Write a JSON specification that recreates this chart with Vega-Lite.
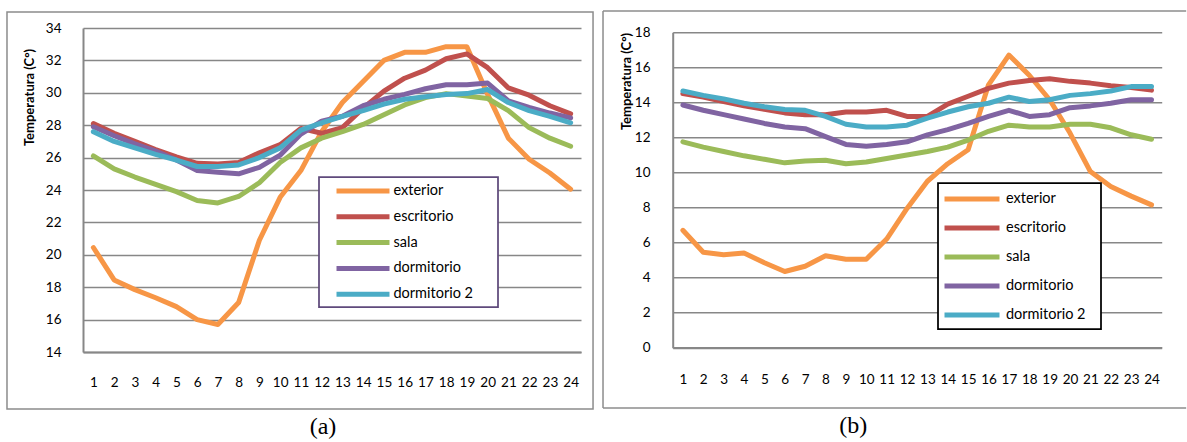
{
  "$schema": "https://vega.github.io/schema/vega-lite/v6.json",
  "padding": {"left": 6, "top": 10, "right": 0, "bottom": 0},
  "background": "white",
  "spacing": 91.7,
  "bounds": "flush",
  "center": true,
  "config": {
    "view": {"stroke": null},
    "font": "Lato",
    "legend": {"strokeWidth": 1.75},
    "axis": {"labelColor": "black", "ticks": false, "labelFont": "Lato", "labelFontSize": 13.5, "domainColor": "#878787", "domainWidth": 2, "gridColor": "#878787", "gridWidth": 1.5}
  },
  "resolve": {"scale": {"color": "independent"}, "legend": {"color": "independent"}},
  "datasets": {
    "a": [
      {"hora": 1, "exterior": 20.45, "escritorio": 28.1, "sala": 26.1, "dormitorio": 27.9, "dormitorio 2": 27.6},
      {"hora": 2, "exterior": 18.45, "escritorio": 27.5, "sala": 25.3, "dormitorio": 27.35, "dormitorio 2": 27.0},
      {"hora": 3, "exterior": 17.85, "escritorio": 27.0, "sala": 24.8, "dormitorio": 26.85, "dormitorio 2": 26.6},
      {"hora": 4, "exterior": 17.35, "escritorio": 26.5, "sala": 24.35, "dormitorio": 26.4, "dormitorio 2": 26.2},
      {"hora": 5, "exterior": 16.8, "escritorio": 26.05, "sala": 23.9, "dormitorio": 25.85, "dormitorio 2": 25.85},
      {"hora": 6, "exterior": 16.0, "escritorio": 25.65, "sala": 23.35, "dormitorio": 25.2, "dormitorio 2": 25.45},
      {"hora": 7, "exterior": 15.7, "escritorio": 25.6, "sala": 23.2, "dormitorio": 25.1, "dormitorio 2": 25.45},
      {"hora": 8, "exterior": 17.05, "escritorio": 25.7, "sala": 23.6, "dormitorio": 25.0, "dormitorio 2": 25.55},
      {"hora": 9, "exterior": 20.9, "escritorio": 26.3, "sala": 24.45, "dormitorio": 25.4, "dormitorio 2": 26.0},
      {"hora": 10, "exterior": 23.55, "escritorio": 26.8, "sala": 25.7, "dormitorio": 26.15, "dormitorio 2": 26.6},
      {"hora": 11, "exterior": 25.2, "escritorio": 27.8, "sala": 26.6, "dormitorio": 27.45, "dormitorio 2": 27.7},
      {"hora": 12, "exterior": 27.6, "escritorio": 27.5, "sala": 27.2, "dormitorio": 28.25, "dormitorio 2": 28.15},
      {"hora": 13, "exterior": 29.4, "escritorio": 27.85, "sala": 27.6, "dormitorio": 28.55, "dormitorio 2": 28.55},
      {"hora": 14, "exterior": 30.7, "escritorio": 29.05, "sala": 28.05, "dormitorio": 29.2, "dormitorio 2": 28.9},
      {"hora": 15, "exterior": 32.0, "escritorio": 30.1, "sala": 28.65, "dormitorio": 29.6, "dormitorio 2": 29.3},
      {"hora": 16, "exterior": 32.5, "escritorio": 30.9, "sala": 29.25, "dormitorio": 29.9, "dormitorio 2": 29.6},
      {"hora": 17, "exterior": 32.5, "escritorio": 31.4, "sala": 29.7, "dormitorio": 30.25, "dormitorio 2": 29.75},
      {"hora": 18, "exterior": 32.85, "escritorio": 32.1, "sala": 29.95, "dormitorio": 30.5, "dormitorio 2": 29.9},
      {"hora": 19, "exterior": 32.85, "escritorio": 32.4, "sala": 29.8, "dormitorio": 30.5, "dormitorio 2": 29.95},
      {"hora": 20, "exterior": 29.9, "escritorio": 31.55, "sala": 29.65, "dormitorio": 30.6, "dormitorio 2": 30.2},
      {"hora": 21, "exterior": 27.2, "escritorio": 30.3, "sala": 28.9, "dormitorio": 29.5, "dormitorio 2": 29.4},
      {"hora": 22, "exterior": 25.9, "escritorio": 29.85, "sala": 27.85, "dormitorio": 29.1, "dormitorio 2": 28.9},
      {"hora": 23, "exterior": 25.05, "escritorio": 29.2, "sala": 27.2, "dormitorio": 28.75, "dormitorio 2": 28.55},
      {"hora": 24, "exterior": 24.05, "escritorio": 28.7, "sala": 26.7, "dormitorio": 28.45, "dormitorio 2": 28.15}
    ],
    "b": [
      {"hora": 1, "exterior": 6.7, "escritorio": 14.5, "sala": 11.75, "dormitorio": 13.85, "dormitorio 2": 14.65},
      {"hora": 2, "exterior": 5.45, "escritorio": 14.3, "sala": 11.45, "dormitorio": 13.55, "dormitorio 2": 14.4},
      {"hora": 3, "exterior": 5.3, "escritorio": 14.05, "sala": 11.2, "dormitorio": 13.3, "dormitorio 2": 14.2},
      {"hora": 4, "exterior": 5.4, "escritorio": 13.8, "sala": 10.95, "dormitorio": 13.05, "dormitorio 2": 13.95},
      {"hora": 5, "exterior": 4.85, "escritorio": 13.6, "sala": 10.75, "dormitorio": 12.8, "dormitorio 2": 13.75},
      {"hora": 6, "exterior": 4.35, "escritorio": 13.4, "sala": 10.55, "dormitorio": 12.6, "dormitorio 2": 13.6},
      {"hora": 7, "exterior": 4.65, "escritorio": 13.3, "sala": 10.65, "dormitorio": 12.5, "dormitorio 2": 13.55},
      {"hora": 8, "exterior": 5.25, "escritorio": 13.3, "sala": 10.7, "dormitorio": 12.05, "dormitorio 2": 13.2},
      {"hora": 9, "exterior": 5.05, "escritorio": 13.45, "sala": 10.5, "dormitorio": 11.6, "dormitorio 2": 12.75},
      {"hora": 10, "exterior": 5.05, "escritorio": 13.45, "sala": 10.6, "dormitorio": 11.5, "dormitorio 2": 12.6},
      {"hora": 11, "exterior": 6.2, "escritorio": 13.55, "sala": 10.8, "dormitorio": 11.6, "dormitorio 2": 12.6},
      {"hora": 12, "exterior": 7.95, "escritorio": 13.2, "sala": 11.0, "dormitorio": 11.75, "dormitorio 2": 12.7},
      {"hora": 13, "exterior": 9.5, "escritorio": 13.2, "sala": 11.2, "dormitorio": 12.15, "dormitorio 2": 13.1},
      {"hora": 14, "exterior": 10.5, "escritorio": 13.9, "sala": 11.45, "dormitorio": 12.45, "dormitorio 2": 13.45},
      {"hora": 15, "exterior": 11.3, "escritorio": 14.35, "sala": 11.85, "dormitorio": 12.8, "dormitorio 2": 13.75},
      {"hora": 16, "exterior": 15.0, "escritorio": 14.8, "sala": 12.35, "dormitorio": 13.2, "dormitorio 2": 13.95},
      {"hora": 17, "exterior": 16.7, "escritorio": 15.1, "sala": 12.7, "dormitorio": 13.55, "dormitorio 2": 14.3},
      {"hora": 18, "exterior": 15.55, "escritorio": 15.25, "sala": 12.6, "dormitorio": 13.2, "dormitorio 2": 14.05},
      {"hora": 19, "exterior": 14.15, "escritorio": 15.35, "sala": 12.6, "dormitorio": 13.3, "dormitorio 2": 14.15},
      {"hora": 20, "exterior": 12.25, "escritorio": 15.2, "sala": 12.75, "dormitorio": 13.7, "dormitorio 2": 14.4},
      {"hora": 21, "exterior": 10.05, "escritorio": 15.1, "sala": 12.75, "dormitorio": 13.8, "dormitorio 2": 14.5},
      {"hora": 22, "exterior": 9.2, "escritorio": 14.95, "sala": 12.55, "dormitorio": 13.95, "dormitorio 2": 14.65},
      {"hora": 23, "exterior": 8.65, "escritorio": 14.85, "sala": 12.15, "dormitorio": 14.15, "dormitorio 2": 14.9},
      {"hora": 24, "exterior": 8.15, "escritorio": 14.7, "sala": 11.9, "dormitorio": 14.15, "dormitorio 2": 14.9}
    ]
  },
  "hconcat": [
    {
      "width": 498,
      "height": 324,
      "title": {"text": "(a)", "orient": "bottom", "font": "Liberation Serif", "fontSize": 24, "fontWeight": "normal", "color": "black", "anchor": "middle", "frame": "group", "dx": -9, "offset": 5},
      "data": {"name": "a"},
      "layer": [
        {
          "data": {"values": [{}]},
          "mark": {"type": "rect", "fill": null, "stroke": "#8c8c8c", "strokeWidth": 1.5},
          "encoding": {
            "x": {"datum": -3.163, "type": "quantitative",
              "axis": {"values": [1,2,3,4,5,6,7,8,9,10,11,12,13,14,15,16,17,18,19,20,21,22,23,24], "format": "d", "grid": false, "title": null, "labelPadding": 23, "labelFlush": false, "labelOverlap": false}},
            "x2": {"datum": 25.08},
            "y": {"datum": 10.48, "type": "quantitative",
              "axis": {"values": [14,16,18,20,22,24,26,28,30,32,34], "grid": true, "labelPadding": 22, "title": "Temperatura (C°)", "titleFont": "Lato", "titleFontSize": 13, "titleFontWeight": "bold", "titleColor": "black", "titleAngle": -90, "titleAlign": "center", "titleBaseline": "bottom", "titleX": -47, "titleY": 69}},
            "y2": {"datum": 34.99}
          }
        },
        {
          "transform": [{"fold": ["exterior", "escritorio", "sala", "dormitorio", "dormitorio 2"], "as": ["serie", "temp"]}],
          "mark": {"type": "line", "strokeWidth": 5, "strokeJoin": "round", "strokeCap": "round"},
          "encoding": {
            "x": {"field": "hora", "type": "quantitative", "scale": {"domain": [0.5, 24.5], "nice": false, "zero": false},
              "axis": {"values": [1,2,3,4,5,6,7,8,9,10,11,12,13,14,15,16,17,18,19,20,21,22,23,24], "format": "d", "grid": false, "title": null, "labelPadding": 23, "labelFlush": false, "labelOverlap": false}},
            "y": {"field": "temp", "type": "quantitative", "scale": {"domain": [14, 34], "nice": false, "zero": false},
              "axis": {"values": [14,16,18,20,22,24,26,28,30,32,34], "grid": true, "labelPadding": 22, "title": "Temperatura (C°)", "titleFont": "Lato", "titleFontSize": 13, "titleFontWeight": "bold", "titleColor": "black", "titleAngle": -90, "titleAlign": "center", "titleBaseline": "bottom", "titleX": -47, "titleY": 69}},
            "color": {"field": "serie", "type": "nominal",
              "scale": {"domain": ["exterior", "escritorio", "sala", "dormitorio", "dormitorio 2"], "range": ["#F79646", "#C0504D", "#9BBB59", "#8064A2", "#4BACC6"]},
              "legend": {"orient": "none", "legendX": 236, "legendY": 149, "title": "\u2800", "titleOrient": "left", "titleFontSize": 8, "titlePadding": 24, "symbolType": "M-3,0H3", "symbolSize": 312, "symbolStrokeWidth": 5, "labelOffset": 19, "labelFontSize": 14.5, "labelColor": "black", "labelExpr": "datum.label + '\u2800\u2800'", "padding": 2.5, "rowPadding": 3.8, "strokeColor": "#5f4a7c", "fillColor": "white"}}
          }
        }
      ]
    },
    {
      "width": 489,
      "height": 315.4,
      "title": {"text": "(b)", "orient": "bottom", "font": "Liberation Serif", "fontSize": 24, "fontWeight": "normal", "color": "black", "anchor": "middle", "frame": "group", "dx": -64, "offset": 5},
      "data": {"name": "b"},
      "layer": [
        {
          "data": {"values": [{}]},
          "mark": {"type": "rule", "stroke": "#8c8c8c", "strokeWidth": 1.5},
          "encoding": {
            "x": {"datum": -2.92, "type": "quantitative",
              "axis": {"values": [1,2,3,4,5,6,7,8,9,10,11,12,13,14,15,16,17,18,19,20,21,22,23,24], "format": "d", "grid": false, "title": null, "labelPadding": 25, "labelFlush": false, "labelOverlap": false}},
            "x2": {"datum": 25.7},
            "y": {"datum": 19.22, "type": "quantitative",
              "axis": {"values": [0,2,4,6,8,10,12,14,16,18], "grid": true, "labelPadding": 22.7, "title": "Temperatura (C°)", "titleFont": "Lato", "titleFontSize": 13, "titleFontWeight": "bold", "titleColor": "black", "titleAngle": -90, "titleAlign": "center", "titleBaseline": "bottom", "titleX": -39.7, "titleY": 48.7}}
          }
        },
        {
          "data": {"values": [{}]},
          "mark": {"type": "rule", "stroke": "#8c8c8c", "strokeWidth": 1.5},
          "encoding": {
            "x": {"datum": -2.92, "type": "quantitative",
              "axis": {"values": [1,2,3,4,5,6,7,8,9,10,11,12,13,14,15,16,17,18,19,20,21,22,23,24], "format": "d", "grid": false, "title": null, "labelPadding": 25, "labelFlush": false, "labelOverlap": false}},
            "x2": {"datum": 25.7},
            "y": {"datum": -3.44, "type": "quantitative",
              "axis": {"values": [0,2,4,6,8,10,12,14,16,18], "grid": true, "labelPadding": 22.7, "title": "Temperatura (C°)", "titleFont": "Lato", "titleFontSize": 13, "titleFontWeight": "bold", "titleColor": "black", "titleAngle": -90, "titleAlign": "center", "titleBaseline": "bottom", "titleX": -39.7, "titleY": 48.7}}
          }
        },
        {
          "data": {"values": [{}]},
          "mark": {"type": "rule", "stroke": "#8c8c8c", "strokeWidth": 1.5},
          "encoding": {
            "x": {"datum": -2.92, "type": "quantitative",
              "axis": {"values": [1,2,3,4,5,6,7,8,9,10,11,12,13,14,15,16,17,18,19,20,21,22,23,24], "format": "d", "grid": false, "title": null, "labelPadding": 25, "labelFlush": false, "labelOverlap": false}},
            "y": {"datum": -3.44, "type": "quantitative",
              "axis": {"values": [0,2,4,6,8,10,12,14,16,18], "grid": true, "labelPadding": 22.7, "title": "Temperatura (C°)", "titleFont": "Lato", "titleFontSize": 13, "titleFontWeight": "bold", "titleColor": "black", "titleAngle": -90, "titleAlign": "center", "titleBaseline": "bottom", "titleX": -39.7, "titleY": 48.7}},
            "y2": {"datum": 19.22}
          }
        },
        {
          "transform": [{"fold": ["exterior", "escritorio", "sala", "dormitorio", "dormitorio 2"], "as": ["serie", "temp"]}],
          "mark": {"type": "line", "strokeWidth": 5, "strokeJoin": "round", "strokeCap": "round"},
          "encoding": {
            "x": {"field": "hora", "type": "quantitative", "scale": {"domain": [0.5, 24.5], "nice": false, "zero": false},
              "axis": {"values": [1,2,3,4,5,6,7,8,9,10,11,12,13,14,15,16,17,18,19,20,21,22,23,24], "format": "d", "grid": false, "title": null, "labelPadding": 25, "labelFlush": false, "labelOverlap": false}},
            "y": {"field": "temp", "type": "quantitative", "scale": {"domain": [0, 18], "nice": false, "zero": false},
              "axis": {"values": [0,2,4,6,8,10,12,14,16,18], "grid": true, "labelPadding": 22.7, "title": "Temperatura (C°)", "titleFont": "Lato", "titleFontSize": 13, "titleFontWeight": "bold", "titleColor": "black", "titleAngle": -90, "titleAlign": "center", "titleBaseline": "bottom", "titleX": -39.7, "titleY": 48.7}},
            "color": {"field": "serie", "type": "nominal",
              "scale": {"domain": ["exterior", "escritorio", "sala", "dormitorio", "dormitorio 2"], "range": ["#F79646", "#C0504D", "#9BBB59", "#8064A2", "#4BACC6"]},
              "legend": {"orient": "none", "legendX": 265.3, "legendY": 150.7, "title": "\u2800", "titleOrient": "left", "titleFontSize": 8, "titlePadding": 12, "symbolType": "M-3,0H3", "symbolSize": 336, "symbolStrokeWidth": 5, "labelOffset": 22, "labelFontSize": 14.5, "labelColor": "black", "labelExpr": "datum.label + '\u2800'", "padding": 4, "rowPadding": 7, "strokeColor": "black", "fillColor": "white"}}
          }
        }
      ]
    }
  ]
}
